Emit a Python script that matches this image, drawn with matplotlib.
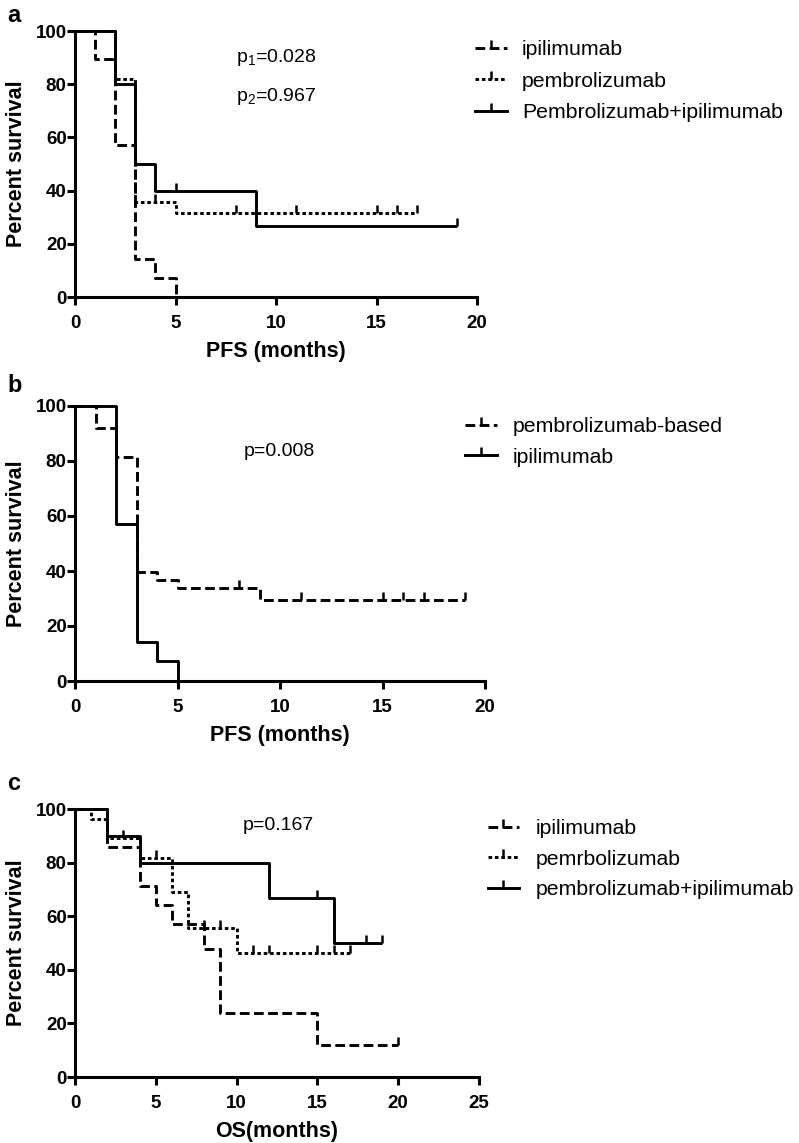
import matplotlib
matplotlib.use("Agg")
import matplotlib.pyplot as plt
from matplotlib.lines import Line2D
import numpy as np

plt.rcParams['font.family'] = ['Liberation Sans', 'DejaVu Sans']
plt.rcParams['lines.scale_dashes'] = False

# ---- data ----
# panel a: PFS by treatment
a_ipi_t = [0, 1, 2, 3, 4, 5]
a_ipi_s = [100, 89.3, 57.1, 14.3, 7.1, 0]
a_ipi_cens = []
a_pem_t = [0, 2, 3, 5, 17]
a_pem_s = [100, 82.1, 35.7, 31.7, 31.7]
a_pem_cens = [4, 8, 11, 15, 16, 17]
a_combo_t = [0, 2, 3, 4, 9, 19]
a_combo_s = [100, 80, 50, 40, 26.7, 26.7]
a_combo_cens = [5, 19]
a_labels = ["ipilimumab", "pembrolizumab", "Pembrolizumab+ipilimumab"]

# panel b: PFS pembrolizumab-based vs ipilimumab
b_pem_t = [0, 1, 2, 3, 4, 5, 9, 19]
b_pem_s = [100, 91.9, 81.6, 39.5, 36.6, 33.9, 29.6, 29.6]
b_pem_cens = [8, 11, 15, 16, 17, 19]
b_ipi_t = [0, 2, 3, 4, 5]
b_ipi_s = [100, 57.1, 14.3, 7.1, 0]
b_ipi_cens = []
b_labels = ["pembrolizumab-based", "ipilimumab"]

# panel c: OS by treatment
c_ipi_t = [0, 2, 4, 5, 6, 8, 9, 15, 20]
c_ipi_s = [100, 85.7, 71.4, 64.3, 57.1, 47.6, 23.8, 11.9, 11.9]
c_ipi_cens = [20]
c_pem_t = [0, 1, 2, 4, 6, 7, 10, 17]
c_pem_s = [100, 96.4, 89.3, 81.8, 69.2, 55.6, 46.3, 46.3]
c_pem_cens = [3, 5, 8, 9, 11, 12, 15, 16, 17]
c_combo_t = [0, 2, 4, 12, 16, 19]
c_combo_s = [100, 90, 80, 66.7, 50, 50]
c_combo_cens = [15, 18, 19]
c_labels = ["ipilimumab", "pemrbolizumab", "pembrolizumab+ipilimumab"]

LW = 2.1
LONG = (0, (7, 3.2))
SHORT = (0, (2.6, 2.0))
SOLID = '-'


def surv_at(t, s, x):
    """Value of the KM step function just at time x."""
    idx = np.searchsorted(t, x, side='right') - 1
    return s[idx]


def km(ax, t, s, cens, ls):
    ax.step(t, s, where='post', color='k', lw=LW, ls=ls, clip_on=False,
            solid_capstyle='butt', dash_capstyle='butt')
    if cens:
        ys = [surv_at(t, s, c) for c in cens]
        ax.plot(cens, ys, ls='none', marker=2, ms=5.5, mew=1.8, color='k',
                clip_on=False)


def style(ax, xmax, xlabel):
    ax.set_xlim(0, xmax)
    ax.set_ylim(0, 100)
    ax.set_xticks(range(0, xmax + 1, 5))
    ax.set_yticks(range(0, 101, 20))
    for sp in ['top', 'right']:
        ax.spines[sp].set_visible(False)
    for sp in ['left', 'bottom']:
        ax.spines[sp].set_linewidth(2.2)
    ax.tick_params(width=2.2, length=5.5, labelsize=13.5)
    ax.tick_params(axis='y', pad=0.5)
    ax.tick_params(axis='x', pad=7.5)
    for lab in ax.get_xticklabels() + ax.get_yticklabels():
        lab.set_fontweight('bold')
    ax.set_xlabel(xlabel, fontsize=15.5, fontweight='bold', labelpad=6.5)
    ax.set_ylabel("Percent survival", fontsize=15.5, fontweight='bold',
                  labelpad=6)


def legend(fig, styles, labels, x, y, hlen, pad, spacing):
    handles = [Line2D([], [], color='k', lw=LW, ls=st, marker=2, ms=5.5, mew=1.8)
               for st in styles]
    fig.legend(handles, labels, loc='upper left', bbox_to_anchor=(x, y),
               frameon=False, fontsize=15.3, handlelength=hlen, numpoints=1,
               handletextpad=pad, labelspacing=spacing, borderpad=0,
               borderaxespad=0)


W, H = 799, 1143
fig = plt.figure(figsize=(W / 100, H / 100), dpi=100)


def box(l, r, top, bot):
    return [l / W, 1 - bot / H, (r - l) / W, (bot - top) / H]


# panel a
ax1 = fig.add_axes(box(75, 477, 31, 297))
km(ax1, a_ipi_t, a_ipi_s, a_ipi_cens, LONG)
km(ax1, a_pem_t, a_pem_s, a_pem_cens, SHORT)
km(ax1, a_combo_t, a_combo_s, a_combo_cens, SOLID)
style(ax1, 20, "PFS (months)")
ax1.text(8.0, 90, r"p$_\mathregular{1}$=0.028", fontsize=14, va='center')
ax1.text(8.0, 75.3, r"p$_\mathregular{2}$=0.967", fontsize=14, va='center')
legend(fig, [LONG, SHORT, SOLID], a_labels, 475 / W, 1 - 40 / H, 1.5, 0.7, 0.6)

# panel b
ax2 = fig.add_axes(box(75, 485, 406, 681))
km(ax2, b_pem_t, b_pem_s, b_pem_cens, LONG)
km(ax2, b_ipi_t, b_ipi_s, b_ipi_cens, SOLID)
style(ax2, 20, "PFS (months)")
ax2.text(8.25, 83.3, "p=0.008", fontsize=14, va='center')
legend(fig, [LONG, SOLID], b_labels, 465 / W, 1 - 417 / H, 1.5, 0.75, 0.55)

# panel c
ax3 = fig.add_axes(box(75, 479, 809, 1077))
km(ax3, c_ipi_t, c_ipi_s, c_ipi_cens, LONG)
km(ax3, c_pem_t, c_pem_s, c_pem_cens, SHORT)
km(ax3, c_combo_t, c_combo_s, c_combo_cens, SOLID)
style(ax3, 25, "OS(months)")
ax3.text(10.4, 94, "p=0.167", fontsize=14, va='center')
legend(fig, [LONG, SHORT, SOLID], c_labels, 488 / W, 1 - 819 / H, 1.45, 0.8, 0.55)

# panel letters
for letter, yy in [('a', 15), ('b', 386), ('c', 784)]:
    fig.text(7 / W, 1 - yy / H, letter, fontsize=17, fontweight='bold',
             va='center', ha='left')

fig.savefig("out.png", dpi=100)
